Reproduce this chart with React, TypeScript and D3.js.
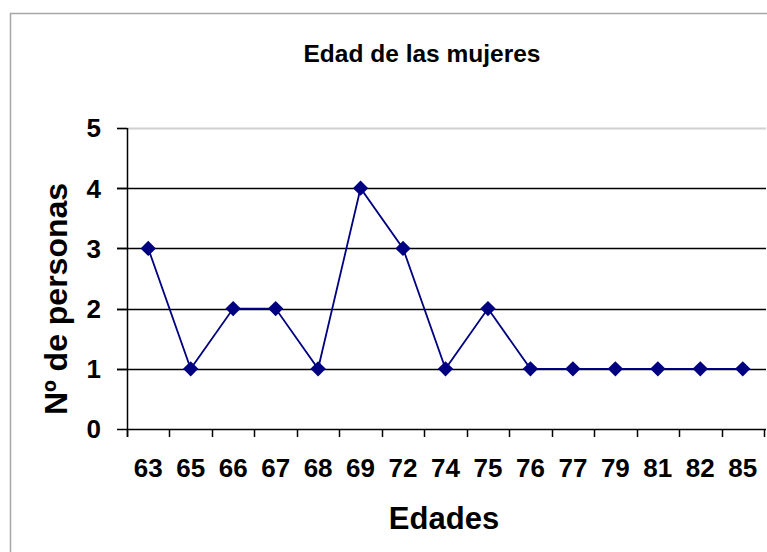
import React from "react";
import * as d3 from "d3";

const categories = ["63", "65", "66", "67", "68", "69", "72", "74", "75", "76", "77", "79", "81", "82", "85"];
const values = [3, 1, 2, 2, 1, 4, 3, 1, 2, 1, 1, 1, 1, 1, 1];
const yTicks = [0, 1, 2, 3, 4, 5];

const W = 767;
const H = 552;
const left = 127;
const right = 764;
const top = 128;
const bottom = 429;
const FONT = "'Liberation Sans', Arial, sans-serif";

export default function App() {
  const x = d3.scaleBand<string>().domain(categories).range([left, right]);
  const y = d3.scaleLinear().domain([0, 5]).range([bottom, top]);
  const cx = (i: number) => (x(categories[i]) as number) + x.bandwidth() / 2;
  const line = d3
    .line<number>()
    .x((_, i) => cx(i))
    .y((d) => y(d));
  const diamond = d3.symbol().type(d3.symbolDiamond2).size(150)();
  const bounds = categories.map((c) => x(c) as number).concat([right]);

  return (
    <svg
      width={W}
      height={H}
      style={{ position: "absolute", left: 0, top: 0, background: "#fff" }}
      fontFamily={FONT}
    >
      <rect x={10.5} y={13.5} width={W + 20} height={H + 20} fill="#fff" stroke="#a6a6a6" strokeWidth={1.5} />
      <text x={422} y={62} textAnchor="middle" fontSize={24.5} fontWeight="bold">
        Edad de las mujeres
      </text>
      {yTicks.map((t) => (
        <line
          key={"g" + t}
          x1={t === 0 ? left : 117}
          x2={right + 2}
          y1={Math.round(y(t)) + 0.5}
          y2={Math.round(y(t)) + 0.5}
          stroke={t === 5 ? "#d0d0d0" : "#000"}
          strokeWidth={t === 5 ? 2 : 1.5}
        />
      ))}
      {yTicks.map((t) => (
        <line key={"yt" + t} x1={117} x2={left} y1={Math.round(y(t)) + 0.5} y2={Math.round(y(t)) + 0.5} stroke="#000" strokeWidth={1.5} />
      ))}
      <line x1={left + 0.5} x2={left + 0.5} y1={top} y2={bottom + 8} stroke="#000" strokeWidth={1.5} />
      {bounds.map((b, i) => (
        <line key={"xt" + i} x1={Math.round(b) + 0.5} x2={Math.round(b) + 0.5} y1={bottom} y2={bottom + 8} stroke="#000" strokeWidth={1.5} />
      ))}
      {yTicks.map((t) => (
        <text key={"yl" + t} x={101} y={y(t)} dy="0.36em" textAnchor="end" fontSize={26} fontWeight="bold">
          {t}
        </text>
      ))}
      {categories.map((c, i) => (
        <text key={"xl" + c} x={cx(i)} y={477} textAnchor="middle" fontSize={26} fontWeight="bold">
          {c}
        </text>
      ))}
      <text x={444} y={529} textAnchor="middle" fontSize={31} fontWeight="bold">
        Edades
      </text>
      <text transform="translate(67,299) rotate(-90)" textAnchor="middle" fontSize={32} fontWeight="bold">
        Nº de personas
      </text>
      <path d={line(values) || ""} fill="none" stroke="#000080" strokeWidth={1.8} />
      {values.map((v, i) => (
        <path key={"m" + i} d={diamond || ""} transform={`translate(${cx(i)},${y(v)})`} fill="#000080" />
      ))}
    </svg>
  );
}
